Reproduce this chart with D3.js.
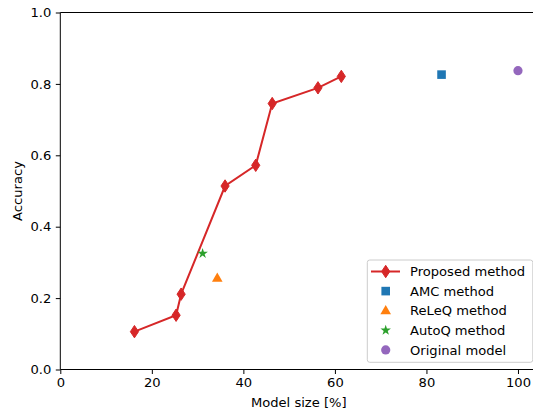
<!DOCTYPE html>
<html>
<head>
<meta charset="utf-8">
<script src="https://cdn.jsdelivr.net/npm/d3@7"></script>
<style>
  html, body { margin: 0; padding: 0; background: #fff; }
  svg { display: block; font-family: "DejaVu Sans", sans-serif; }
</style>
</head>
<body>
<svg id="chart" width="533" height="414"></svg>
<script>
// Proposed method: model size (%) vs accuracy
const proposedSize = [16.2, 25.3, 26.4, 36.0, 42.7, 46.3, 56.3, 61.4];
const proposedAcc  = [0.106, 0.152, 0.211, 0.514, 0.572, 0.745, 0.789, 0.821];

// Single-point comparisons
const otherNames = ["AMC method", "ReLeQ method", "AutoQ method", "Original model"];
const otherSize  = [83.3, 34.3, 31.1, 100.0];
const otherAcc   = [0.826, 0.256, 0.325, 0.837];

const xTicks = [0, 20, 40, 60, 80, 100];
const yTicks = [0.0, 0.2, 0.4, 0.6, 0.8, 1.0];
const legendNames = ["Proposed method"].concat(otherNames);

const colors = { red: "#d62728", blue: "#1f77b4", orange: "#ff7f0e", green: "#2ca02c", purple: "#9467bd" };
const otherColors = [colors.blue, colors.orange, colors.green, colors.purple];
const otherShapes = ["square", "triangle", "star", "circle"];

const svg = d3.select("#chart");
const plotLeft = 60.3, plotRight = 537.2, plotTop = 12.5, plotBottom = 369.5;

const x = d3.scaleLinear().domain([0, 104.2]).range([plotLeft, plotRight]);
const y = d3.scaleLinear().domain([0, 1]).range([plotBottom, plotTop]);

const fontSize = 13.1;

// marker path builders (centered at 0,0)
function markerPath(shape) {
  if (shape === "diamond") return "M0,-6.2L4.1,0L0,6.2L-4.1,0Z";
  if (shape === "square") return "M-4.3,-4.3H4.3V4.3H-4.3Z";
  if (shape === "triangle") return "M0,-5.6L5.3,3.6L-5.3,3.6Z";
  if (shape === "circle") return d3.symbol(d3.symbolCircle, Math.PI * 4.6 * 4.6)();
  if (shape === "star") return d3.symbol(d3.symbolStar, 34)();
}

// axes
const xAxis = d3.axisBottom(x).tickValues(xTicks).tickSize(4.5).tickPadding(4)
  .tickFormat(d3.format("d"));
const yAxis = d3.axisLeft(y).tickValues(yTicks).tickSize(4.5).tickPadding(4.5)
  .tickFormat(d3.format(".1f"));

const gx = svg.append("g").attr("transform", `translate(0,${plotBottom})`).call(xAxis);
const gy = svg.append("g").attr("transform", `translate(${plotLeft},0)`).call(yAxis);
[gx, gy].forEach(g => {
  g.select(".domain").remove();
  g.selectAll("line").attr("stroke", "#000").attr("stroke-width", 1);
  g.selectAll("text").attr("fill", "#000").style("font-size", fontSize + "px")
    .style("font-family", "'DejaVu Sans', sans-serif");
});

// spines: left, bottom, top (right edge lies beyond the canvas)
svg.append("line").attr("x1", plotLeft).attr("x2", plotLeft).attr("y1", plotTop).attr("y2", plotBottom)
  .attr("stroke", "#000").attr("stroke-width", 1);
svg.append("line").attr("x1", plotLeft).attr("x2", plotRight).attr("y1", plotBottom).attr("y2", plotBottom)
  .attr("stroke", "#000").attr("stroke-width", 1);
svg.append("line").attr("x1", plotLeft).attr("x2", plotRight).attr("y1", plotTop).attr("y2", plotTop)
  .attr("stroke", "#000").attr("stroke-width", 1);

// axis titles
svg.append("text").attr("x", (plotLeft + plotRight) / 2).attr("y", 406.5)
  .attr("text-anchor", "middle").style("font-size", fontSize + "px")
  .text("Model size [%]");
svg.append("text").attr("transform", `translate(22,${(plotTop + plotBottom) / 2}) rotate(-90)`)
  .attr("text-anchor", "middle").style("font-size", fontSize + "px")
  .text("Accuracy");

// proposed method line + diamonds
const pts = proposedSize.map((s, i) => [s, proposedAcc[i]]);
svg.append("path").datum(pts)
  .attr("d", d3.line().x(d => x(d[0])).y(d => y(d[1])))
  .attr("fill", "none").attr("stroke", colors.red).attr("stroke-width", 2);
svg.append("g").selectAll("path").data(pts).join("path")
  .attr("d", markerPath("diamond"))
  .attr("transform", d => `translate(${x(d[0])},${y(d[1])})`)
  .attr("fill", colors.red).attr("stroke", colors.red).attr("stroke-width", 1)
  .attr("stroke-linejoin", "miter");

// other methods
svg.append("g").selectAll("path").data(otherSize).join("path")
  .attr("d", (d, i) => markerPath(otherShapes[i]))
  .attr("transform", (d, i) => `translate(${x(d)},${y(otherAcc[i])})`)
  .attr("fill", (d, i) => otherColors[i]);

// legend
const lg = svg.append("g");
const lx0 = 367.3, ly0 = 260, lw = 165.5, lh = 102.3;
lg.append("rect").attr("x", lx0).attr("y", ly0).attr("width", lw).attr("height", lh)
  .attr("rx", 2.5).attr("fill", "#fff").attr("fill-opacity", 0.8)
  .attr("stroke", "#cccccc").attr("stroke-width", 1);
const rowY = i => 271.5 + i * 19.6;
const mx = 385.7;
legendNames.forEach((name, i) => {
  const yy = rowY(i);
  if (i === 0) {
    lg.append("line").attr("x1", 371).attr("x2", 400).attr("y1", yy).attr("y2", yy)
      .attr("stroke", colors.red).attr("stroke-width", 2);
    lg.append("path").attr("d", markerPath("diamond"))
      .attr("transform", `translate(${mx},${yy})`)
      .attr("fill", colors.red).attr("stroke", colors.red).attr("stroke-width", 1);
  } else {
    lg.append("path").attr("d", markerPath(otherShapes[i - 1]))
      .attr("transform", `translate(${mx},${yy})`)
      .attr("fill", otherColors[i - 1]);
  }
  lg.append("text").attr("x", 410).attr("y", yy).attr("dy", "0.36em")
    .style("font-size", fontSize + "px").text(name);
});
</script>
</body>
</html>
